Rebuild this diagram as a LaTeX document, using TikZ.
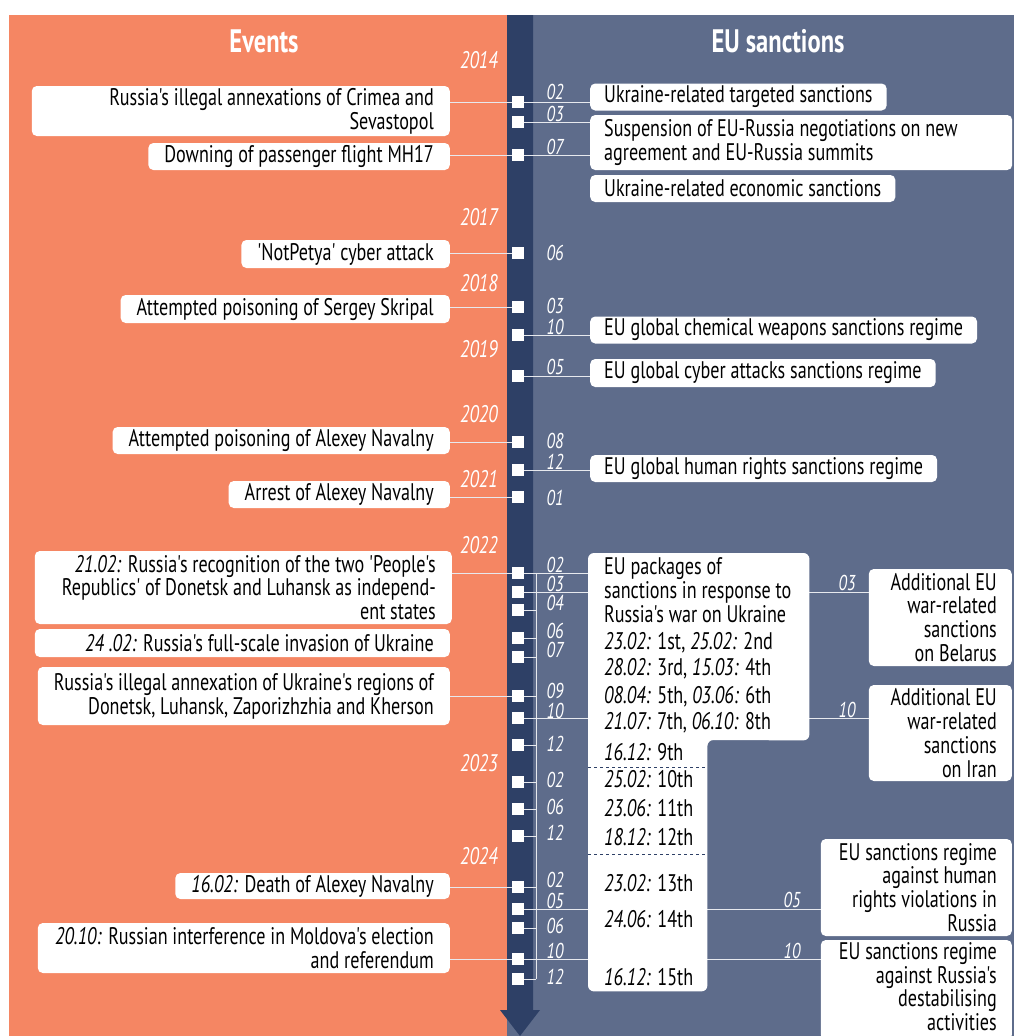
\documentclass[tikz,border=0pt]{standalone}
\usepackage{fontspec}
\setmainfont{PT Sans}[FakeStretch=0.755,Ligatures=TeXOff]
\usetikzlibrary{positioning}
\definecolor{evorange}{HTML}{F58663}
\definecolor{eublue}{HTML}{5E6C8B}
\definecolor{bardark}{HTML}{2E4066}
\newcommand{\evfont}{\fontsize{24}{23.8}\selectfont}
\newcommand{\yrfont}{\fontsize{24}{24}\selectfont\itshape}
\newcommand{\mofont}{\fontsize{21.5}{22}\selectfont\itshape}
\newcommand{\hdfont}{\fontsize{32.5}{34}\selectfont\bfseries}
\tikzset{
  evbox/.style={fill=white, rounded corners=5, inner xsep=16, inner ysep=0, align=flush right, anchor=east, font=\evfont},
  snbox/.style={fill=white, rounded corners=5, inner xsep=14, inner ysep=0, align=flush left, anchor=west, font=\evfont},
  adbox/.style={fill=white, rounded corners=5, inner xsep=15, inner ysep=0, align=flush right, anchor=east, font=\evfont},
  pkline/.style={anchor=west, inner sep=0, font=\evfont},
  sq/.style={fill=white, minimum size=12, inner sep=0},
  yr/.style={anchor=east, inner sep=0, text=white, font=\yrfont},
  mo/.style={inner sep=0, text=white, font=\mofont},
  hd/.style={text=white, font=\hdfont},
  lk/.style={draw=white!85!eublue, line width=1},
  cut/.style={draw=bardark, dashed, line width=0.8}
}
\begin{document}
\begin{tikzpicture}[x=1pt,y=-1pt]
\useasboundingbox (0,0) rectangle (1014,1036);
\fill[white] (0,0) rectangle (1014,1036);
\fill[evorange] (9,15) rectangle (507,1036);
\fill[eublue] (507,15) rectangle (1014,1036);
\fill[bardark] (507,15) -- (533,15) -- (533,1010) -- (540,1010) -- (520,1036) -- (500,1010) -- (507,1010) -- cycle;
\node[hd] (hd1) at (264,41) {Events};
\node[hd] (hd2) at (778,41) {EU sanctions};
\node[yr] (yr1) at (498,60) {2014};
\node[yr] (yr2) at (498,217) {2017};
\node[yr] (yr3) at (498,283) {2018};
\node[yr] (yr4) at (498,349) {2019};
\node[yr] (yr5) at (498,414) {2020};
\node[yr] (yr6) at (498,479) {2021};
\node[yr] (yr7) at (498,545) {2022};
\node[yr] (yr8) at (498,763) {2023};
\node[yr] (yr9) at (498,856) {2024};
\node[sq] (q1) at (518,102) {};
\node[sq] (q2) at (518,122) {};
\node[sq] (q3) at (518,155) {};
\node[sq] (q4) at (518,253) {};
\node[sq] (q5) at (518,307) {};
\node[sq] (q6) at (518,335) {};
\node[sq] (q7) at (518,376) {};
\node[sq] (q8) at (518,442) {};
\node[sq] (q9) at (518,470) {};
\node[sq] (q10) at (518,497) {};
\node[sq] (q11) at (518,573) {};
\node[sq] (q12) at (518,592) {};
\node[sq] (q13) at (518,610) {};
\node[sq] (q14) at (518,638) {};
\node[sq] (q15) at (518,657) {};
\node[sq] (q16) at (518,696) {};
\node[sq] (q17) at (518,718) {};
\node[sq] (q18) at (518,745) {};
\node[sq] (q19) at (518,782) {};
\node[sq] (q20) at (518,809) {};
\node[sq] (q21) at (518,836) {};
\node[sq] (q22) at (518,887) {};
\node[sq] (q23) at (518,909) {};
\node[sq] (q24) at (518,928) {};
\node[sq] (q25) at (518,959) {};
\node[sq] (q26) at (518,979) {};
\node[mo] (mo1) at (555,92) {02};
\node[mo] (mo2) at (555,114) {03};
\node[mo] (mo3) at (555,147) {07};
\node[mo] (mo4) at (555,253) {06};
\node[mo] (mo5) at (555,306) {03};
\node[mo] (mo6) at (555,327) {10};
\node[mo] (mo7) at (555,367) {05};
\node[mo] (mo8) at (555,441) {08};
\node[mo] (mo9) at (555,462) {12};
\node[mo] (mo10) at (555,498) {01};
\node[mo] (mo11) at (555,565) {02};
\node[mo] (mo12) at (555,584) {03};
\node[mo] (mo13) at (555,603) {04};
\node[mo] (mo14) at (555,631) {06};
\node[mo] (mo15) at (555,650) {07};
\node[mo] (mo16) at (555,691) {09};
\node[mo] (mo17) at (555,711) {10};
\node[mo] (mo18) at (555,744) {12};
\node[mo] (mo19) at (555,780) {02};
\node[mo] (mo20) at (555,807) {06};
\node[mo] (mo21) at (555,833) {12};
\node[mo] (mo22) at (555,880) {02};
\node[mo] (mo23) at (555,901) {05};
\node[mo] (mo24) at (555,926) {06};
\node[mo] (mo25) at (555,951) {10};
\node[mo] (mo26) at (555,977) {12};
\coordinate (vt) at (536,573);
\coordinate (vb) at (536,979);
\node[minimum width=221, minimum height=187, inner sep=0, anchor=north west] (pkw) at (588,553) {};
\node[minimum width=119, minimum height=251, inner sep=0, anchor=north west] (pkn) at (588,740) {};
\draw[lk] (vt) -- (vb);
\draw[lk] (q11) -- (q11 -| pkw.west);
\draw[lk] (q12) -- (q12 -| pkw.west);
\draw[lk] (q13) -- (q13 -| vt);
\draw[lk] (q14) -- (q14 -| vt);
\draw[lk] (q15) -- (q15 -| vt);
\draw[lk] (q16) -- (q16 -| vt);
\draw[lk] (q17) -- (q17 -| pkw.west);
\draw[lk] (q18) -- (q18 -| vt);
\draw[lk] (q19) -- (q19 -| vt);
\draw[lk] (q20) -- (q20 -| vt);
\draw[lk] (q21) -- (q21 -| vt);
\draw[lk] (q22) -- (q22 -| vt);
\draw[lk] (q23) -- (q23 -| pkn.west);
\draw[lk] (q24) -- (q24 -| vt);
\draw[lk] (q25) -- (q25 -| pkn.west);
\draw[lk] (q26) -- (q26 -| vt);
\node[evbox, text width=386, minimum height=50] (ev1) at (450,111) {Russia's illegal annexations of Crimea and\\Sevastopol};
\node[evbox, minimum height=27] (ev2) at (450,156.5) {Downing of passenger flight MH17};
\node[evbox, minimum height=28] (ev3) at (450,254) {'NotPetya' cyber attack};
\node[evbox, minimum height=28] (ev4) at (450,309) {Attempted poisoning of Sergey Skripal};
\node[evbox, minimum height=27] (ev5) at (450,440.5) {Attempted poisoning of Alexey Navalny};
\node[evbox, minimum height=27] (ev6) at (450,494.5) {Arrest of Alexey Navalny};
\node[evbox, text width=385, minimum height=73] (ev7) at (452,587.5) {\textit{21.02:} Russia's recognition of the two 'People's\\Republics' of Donetsk and Luhansk as independ-\\ent states};
\node[evbox, text width=383, minimum height=28] (ev8) at (450,643) {\textit{24 .02:} Russia's full-scale invasion of Ukraine};
\node[evbox, text width=380, minimum height=58] (ev9) at (450,696) {Russia's illegal annexation of Ukraine's regions of\\Donetsk,  Luhansk, Zaporizhzhia and  Kherson};
\node[evbox, minimum height=26] (ev10) at (450,886) {\textit{16.02:} Death of Alexey Navalny};
\node[evbox, text width=380, minimum height=50] (ev11) at (450,948) {\textit{20.10:} Russian interference in Moldova's election\\and referendum};
\node[snbox, minimum height=27] (sn1) at (590,97) {Ukraine-related targeted sanctions};
\node[snbox, text width=394, minimum height=55] (sn2) at (590,142.5) {Suspension of EU-Russia negotiations on new\\agreement and  EU-Russia summits};
\node[snbox, minimum height=27] (sn3) at (590,188.5) {Ukraine-related economic sanctions};
\node[snbox, minimum height=27] (sn4) at (590,330) {EU global chemical weapons sanctions regime};
\node[snbox, minimum height=28] (sn5) at (590,373) {EU global cyber attacks sanctions regime};
\node[snbox, minimum height=27] (sn6) at (590,468.5) {EU global human rights sanctions regime};
\draw[lk] (ev1.east |- q1) -- (q1) -- (q1 -| sn1.west);
\draw[lk] (q2) -- (q2 -| sn2.west);
\draw[lk] (ev2.east |- q3) -- (q3) -- (q3 -| sn2.west);
\draw[lk] (ev3.east |- q4) -- (q4);
\draw[lk] (ev4.east |- q5) -- (q5);
\draw[lk] (q6) -- (q6 -| sn4.west);
\draw[lk] (q7) -- (q7 -| sn5.west);
\draw[lk] (ev5.east |- q8) -- (q8);
\draw[lk] (q9) -- (q9 -| sn6.west);
\draw[lk] (ev6.east |- q10) -- (q10);
\draw[lk] (ev7.east |- q11) -- (q11);
\draw[lk] (ev9.east |- q16) -- (q16);
\draw[lk] (ev10.east |- q22) -- (q22);
\draw[lk] (ev11.east |- q25) -- (q25);
\node[adbox, text width=113, minimum height=97] (ad1) at (1012,617.5) {Additional EU\\war-related\\sanctions\\on Belarus};
\node[adbox, text width=113, minimum height=96] (ad2) at (1012,733) {Additional EU\\war-related\\sanctions\\on Iran};
\node[adbox, text width=161, minimum height=97] (ad3) at (1012,887.5) {EU sanctions regime\\against human\\rights violations in\\Russia};
\node[adbox, text width=161, minimum height=100] (ad4) at (1012,990) {EU sanctions regime\\against Russia's\\destabilising\\activities\strut};
\draw[lk] (q12 -| pkw.east) -- (q12 -| ad1.west);
\draw[lk] (q17 -| pkw.east) -- (q17 -| ad2.west);
\draw[lk] (q23 -| pkn.east) -- (q23 -| ad3.west);
\draw[lk] (q25 -| pkn.east) -- (q25 -| ad4.west);
\node[mo] (mo27) at (847,583) {03};
\node[mo] (mo28) at (847,710) {10};
\node[mo] (mo29) at (792,900) {05};
\node[mo] (mo30) at (792,951) {10};
\fill[white, rounded corners=6] (pkw.north west) -- (pkw.north east) -- (pkw.south east) -- (pkn.north east) -- (pkn.south east) -- (pkn.south west) -- cycle;
\coordinate (da1) at (588,767);
\coordinate (da2) at (707,767);
\coordinate (db1) at (588,854);
\coordinate (db2) at (707,854);
\draw[cut] (da1) -- (da2);
\draw[cut] (db1) -- (db2);
\node[pkline, align=flush left] (pk1) at (604,590) {EU packages of\\sanctions in response to\\Russia's war on Ukraine};
\node[pkline] (pk2) at (604,643) {\textit{23.02:} 1st, \textit{25.02:} 2nd};
\node[pkline] (pk3) at (604,669) {\textit{28.02:} 3rd, \textit{15.03:} 4th};
\node[pkline] (pk4) at (604,697) {\textit{08.04:} 5th, \textit{03.06:} 6th};
\node[pkline] (pk5) at (604,723) {\textit{21.07:} 7th, \textit{06.10:} 8th};
\node[pkline] (pk6) at (604,752) {\textit{16.12:} 9th};
\node[pkline] (pk7) at (604,779) {\textit{25.02:} 10th};
\node[pkline] (pk8) at (604,808) {\textit{23.06:} 11th};
\node[pkline] (pk9) at (604,837) {\textit{18.12:} 12th};
\node[pkline] (pk10) at (604,883) {\textit{23.02:} 13th};
\node[pkline] (pk11) at (604,919) {\textit{24.06:} 14th};
\node[pkline] (pk12) at (604,977) {\textit{16.12:} 15th};
\end{tikzpicture}
\end{document}
